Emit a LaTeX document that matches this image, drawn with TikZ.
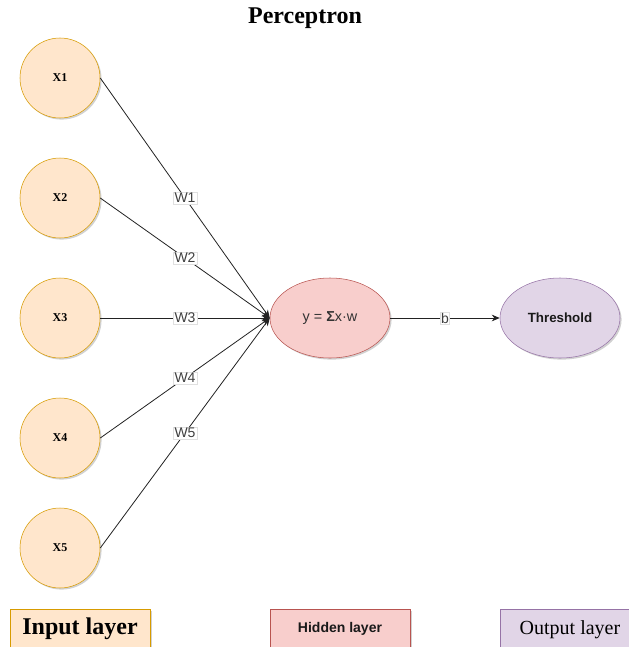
\documentclass[tikz,border=0pt]{standalone}
\usepackage{fontspec}
\setmainfont{Liberation Serif}
\setsansfont{Liberation Sans}
\usetikzlibrary{arrows.meta,shadows,shapes.geometric}
\definecolor{inpF}{HTML}{FFE6CC}
\definecolor{inpD}{HTML}{D79B00}
\definecolor{hidF}{HTML}{F8CECC}
\definecolor{hidD}{HTML}{B85450}
\definecolor{outF}{HTML}{E1D5E7}
\definecolor{outD}{HTML}{9673A6}
\definecolor{edgeC}{HTML}{222222}
\tikzset{
  shad/.style={drop shadow={shadow xshift=1.2pt,shadow yshift=-1.2pt,opacity=0.18,fill=black}},
  inp/.style={circle,draw=inpD,fill=inpF,minimum size=60pt,inner sep=0pt,shad,
    font=\bfseries\fontsize{9}{10}\selectfont},
  hid/.style={ellipse,draw=hidD,fill=hidF,minimum width=90pt,minimum height=60pt,inner sep=0pt,shad,
    font=\sffamily\fontsize{10.8}{12}\selectfont,text=black!80},
  outn/.style={ellipse,draw=outD,fill=outF,minimum width=90pt,minimum height=60pt,inner sep=0pt,shad,
    font=\sffamily\bfseries\fontsize{10}{11}\selectfont,text=black!90},
  edge/.style={draw=edgeC,line width=0.6pt,-{Stealth[length=6pt,width=5pt]}},
  wlab/.style={fill=white,draw=black!12,line width=0.3pt,inner sep=1pt,
    font=\sffamily\fontsize{10.5}{11}\selectfont,text=black!75},
  lbox/.style={rectangle,minimum width=105pt,minimum height=30pt,inner sep=0pt,shad},
}
\begin{document}
\begin{tikzpicture}[x=0.75pt,y=-0.75pt]
\useasboundingbox (0,0) rectangle (629,647);
\node[font=\bfseries\fontsize{18}{20}\selectfont] (title) at (305,18) {Perceptron};

\node[inp] (x1) at (60,78) {X1};
\node[inp] (x2) at (60,198) {X2};
\node[inp] (x3) at (60,318) {X3};
\node[inp] (x4) at (60,438) {X4};
\node[inp] (x5) at (60,548) {X5};

\node[hid] (h) at (330,318) {y = \textbf{Σ}x·w};
\node[outn] (t) at (560,318) {Threshold};

\draw[edge] (x1.east) -- node[wlab] {W1} (h.west);
\draw[edge] (x2.east) -- node[wlab] {W2} (h.west);
\draw[edge] (x3.east) -- node[wlab] {W3} (h.west);
\draw[edge] (x4.east) -- node[wlab] {W4} (h.west);
\draw[edge] (x5.east) -- node[wlab] {W5} (h.west);
\draw[edge] (h.east) -- node[wlab,inner sep=0.5pt] {b} (t.west);

\node[lbox,draw=inpD,fill=inpF,font=\bfseries\fontsize{18}{20}\selectfont] (il) at (80,629) {Input layer};
\node[lbox,draw=hidD,fill=hidF,font=\sffamily\bfseries\fontsize{10.5}{12}\selectfont,text=black!90] (hl) at (340,629) {Hidden layer};
\node[lbox,draw=outD,fill=outF] (ol) at (570,629) {};
\node[font=\fontsize{15}{17}\selectfont,anchor=center] (olt) at (570,630) {Output layer};
\end{tikzpicture}
\end{document}
